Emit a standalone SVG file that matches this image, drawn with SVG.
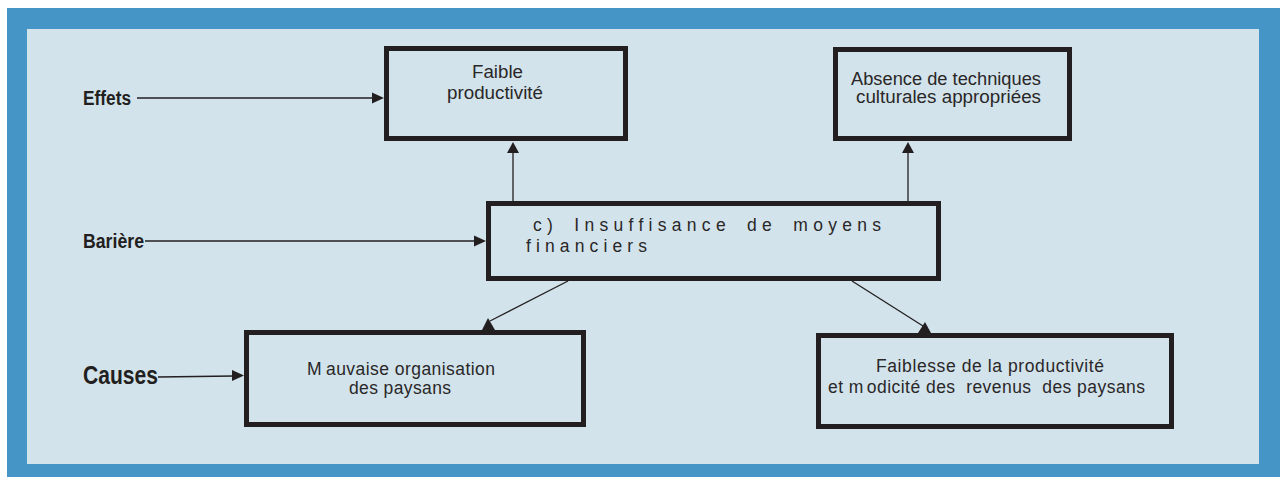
<svg xmlns="http://www.w3.org/2000/svg" width="1282" height="477" viewBox="0 0 1282 477">
<style>
.box{fill:none;stroke:#231f20;stroke-width:5}
.ln{stroke:#231f20;stroke-width:1.3;fill:none}
.ah{fill:#231f20}
.t{font-family:"Liberation Sans",Arial,sans-serif;font-size:17.5px;fill:#2a2728}
.lbl{font-family:"Liberation Sans",Arial,sans-serif;font-weight:bold;fill:#231f20}
</style>
<rect x="7" y="8" width="1273" height="469" fill="#4596c6"/>
<rect x="27" y="29" width="1232" height="435" fill="#d2e3eb"/>
<g id="label-effets"><text class="lbl" x="83" y="105" font-size="20" textLength="48" lengthAdjust="spacingAndGlyphs">Effets</text></g>
<g id="label-bariere"><text class="lbl" x="83" y="248" font-size="20" textLength="61" lengthAdjust="spacingAndGlyphs">Barière</text></g>
<g id="label-causes"><text class="lbl" x="83" y="384" font-size="26" textLength="75" lengthAdjust="spacingAndGlyphs">Causes</text></g>
<g id="node-faible">
<rect class="box" x="386.5" y="48.5" width="239" height="90"/>
<text class="t" x="472" y="78" textLength="51" lengthAdjust="spacingAndGlyphs">Faible</text>
<text class="t" x="447" y="99" textLength="96" lengthAdjust="spacingAndGlyphs">productivité</text>
</g>
<g id="node-absence">
<rect class="box" x="835.5" y="49.5" width="234" height="89"/>
<text class="t" x="851" y="85" textLength="190" lengthAdjust="spacingAndGlyphs">Absence de techniques</text>
<text class="t" x="856" y="103" textLength="185" lengthAdjust="spacingAndGlyphs">culturales appropriées</text>
</g>
<g id="node-insuffisance">
<rect class="box" x="488.5" y="203.5" width="450" height="75"/>
<text class="t" x="533" y="231" textLength="354" lengthAdjust="spacing" letter-spacing="6" word-spacing="6">c) Insuffisance de moyens</text>
<text class="t" x="526" y="252" textLength="127" lengthAdjust="spacing" letter-spacing="6">financiers</text>
</g>
<g id="node-mauvaise">
<rect class="box" x="246.5" y="332.5" width="337" height="92"/>
<text class="t" x="307" y="375" textLength="188" lengthAdjust="spacing">M<tspan dx="4">auvaise organisation</tspan></text>
<text class="t" x="349" y="394" textLength="102" lengthAdjust="spacing">des paysans</text>
</g>
<g id="node-faiblesse">
<rect class="box" x="818.5" y="335.5" width="353" height="91"/>
<text class="t" x="876" y="372" textLength="228" lengthAdjust="spacing">Faiblesse de la productivité</text>
<text class="t" x="828" y="393" textLength="317" lengthAdjust="spacing" style="white-space:pre">et m<tspan dx="3">odicité des  revenus  des paysans</tspan></text>
</g>
<g id="connectors">
<line class="ln" x1="137" y1="98" x2="374" y2="98"/>
<polygon class="ah" points="384,98 372,92.5 372,103.5"/>
<line class="ln" x1="145" y1="241" x2="476" y2="241"/>
<polygon class="ah" points="486,241 474,235.5 474,246.5"/>
<line class="ln" x1="158" y1="377" x2="234" y2="376"/>
<polygon class="ah" points="244,375.5 232,370 232,381"/>
<line class="ln" x1="513" y1="201" x2="513" y2="152"/>
<polygon class="ah" points="513,142 507,153 519,153"/>
<line class="ln" x1="908" y1="201" x2="908" y2="152"/>
<polygon class="ah" points="908,142 902,153 914,153"/>
<line class="ln" x1="568" y1="281" x2="490" y2="321"/>
<polygon class="ah" points="488,318 482,330 495,330"/>
<line class="ln" x1="852" y1="281" x2="923" y2="326"/>
<polygon class="ah" points="925,322 918,333 931,333"/>
</g>
</svg>
